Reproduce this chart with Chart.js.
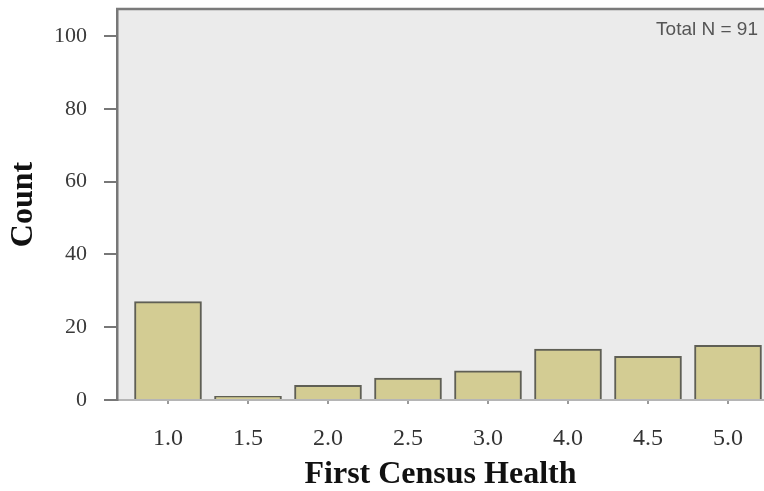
<!DOCTYPE html>
<html>
<head>
<meta charset="utf-8">
<script src="https://cdn.jsdelivr.net/npm/chart.js@4.4.1/dist/chart.umd.min.js"></script>
<style>
  html, body { margin: 0; padding: 0; background: #ffffff; overflow: hidden; }
  #wrap { width: 764px; height: 491px; position: relative; }
</style>
</head>
<body>
<div id="wrap"><canvas id="c" width="764" height="491"></canvas></div>
<script>
// ---- data ----
const categories = ['1.0', '1.5', '2.0', '2.5', '3.0', '4.0', '4.5', '5.0'];
const counts = [27, 1, 4, 6, 8, 14, 12, 15];
const yTicks = [0, 20, 40, 60, 80, 100];
const xTitle = 'First Census Health';
const yTitle = 'Count';
const noteText = 'Total N = 91';

const points = counts.map((v, i) => ({ x: i, y: v }));

const plotBg = {
  id: 'plotBg',
  beforeDraw(chart) {
    const { ctx, chartArea: a } = chart;
    ctx.save();
    ctx.fillStyle = '#ebebeb';
    ctx.fillRect(a.left, a.top, a.right - a.left, a.bottom - a.top);
    ctx.restore();
  },
  afterDraw(chart) {
    const { ctx, chartArea: a } = chart;
    ctx.save();
    ctx.strokeStyle = '#7a7a7a';
    ctx.lineWidth = 2.5;
    ctx.beginPath();
    ctx.moveTo(a.left - 1, a.top);
    ctx.lineTo(a.right, a.top);
    ctx.stroke();
    ctx.fillStyle = '#555555';
    ctx.font = '19px "Liberation Sans", Arial, sans-serif';
    ctx.textAlign = 'right';
    ctx.textBaseline = 'middle';
    ctx.fillText(noteText, 758, 30);
    ctx.restore();
  }
};

new Chart(document.getElementById('c'), {
  type: 'bar',
  data: {
    datasets: [{
      data: points,
      backgroundColor: '#d3cc93',
      borderColor: '#5f5f55',
      borderWidth: 2,
      barThickness: 67
    }]
  },
  plugins: [plotBg],
  options: {
    responsive: false,
    animation: false,
    devicePixelRatio: 1,
    layout: { padding: { top: 9, left: 0, right: 0, bottom: 0 } },
    plugins: { legend: { display: false }, tooltip: { enabled: false } },
    scales: {
      x: {
        type: 'linear',
        offset: false,
        min: -0.6375,
        max: 7.45,
        afterBuildTicks(scale) {
          scale.ticks = categories.map((c, i) => ({ value: i }));
        },
        afterFit(scale) {
          scale.height = 91;
          scale.paddingLeft = 0;
          scale.paddingRight = 0;
        },
        ticks: {
          callback: (v) => categories[v],
          color: '#333333',
          font: { family: '"Liberation Serif", "Times New Roman", serif', size: 24 },
          padding: 20,
          maxRotation: 0,
          autoSkip: false
        },
        grid: {
          offset: false,
          drawOnChartArea: false,
          drawTicks: true,
          tickLength: 4,
          color: '#9a9a9a',
          lineWidth: 2
        },
        border: { display: true, color: '#b5b5b5', width: 2 },
        title: {
          display: true,
          text: xTitle,
          align: 'center',
          color: '#111111',
          font: { family: '"Liberation Serif", "Times New Roman", serif', size: 32, weight: 'bold' },
          padding: { top: 0, bottom: -3 }
        }
      },
      y: {
        type: 'linear',
        min: 0,
        max: 107.4,
        afterBuildTicks(scale) {
          scale.ticks = yTicks.map(v => ({ value: v }));
        },
        afterFit(scale) {
          scale.width = 117;
          scale.paddingTop = 0;
          scale.paddingBottom = 0;
        },
        ticks: {
          color: '#3a3a3a',
          font: { family: '"Liberation Serif", "Times New Roman", serif', size: 22 },
          padding: 17
        },
        grid: {
          drawOnChartArea: false,
          drawTicks: true,
          tickLength: 13,
          color: '#777777',
          lineWidth: 2
        },
        border: { display: true, color: '#777777', width: 2.5 },
        title: {
          display: true,
          text: yTitle,
          color: '#111111',
          font: { family: '"Liberation Serif", "Times New Roman", serif', size: 32, weight: 'bold' },
          padding: { top: 5, bottom: 0 }
        }
      }
    }
  }
});
</script>
</body>
</html>
